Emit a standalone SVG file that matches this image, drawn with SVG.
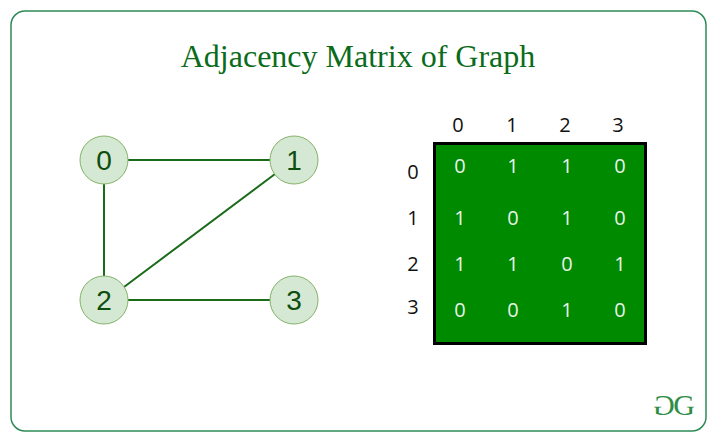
<svg xmlns="http://www.w3.org/2000/svg" width="717" height="441" viewBox="0 0 717 441">
<style>
.n{fill:#d5e8d4;stroke:#82b366;stroke-width:1}
.nt{font-family:"Liberation Sans",Arial,sans-serif;font-size:28px;fill:#0d4d0d;text-anchor:middle}
.e{stroke:#1a6b1a;stroke-width:2;fill:none}
.h{font-family:"Open Sans","DejaVu Sans",sans-serif;font-size:20px;fill:#111;text-anchor:middle}
.c{font-family:"Open Sans","DejaVu Sans",sans-serif;font-size:20px;fill:#e8f5e8;text-anchor:middle}
</style>
<rect width="717" height="441" fill="#fff"/>
<rect x="11" y="11" width="695" height="420" rx="14" fill="#fff" stroke="#2e8b57" stroke-width="1.5"/>
<text x="358" y="67" font-family="Liberation Serif,serif" font-size="32" fill="#0a6b1a" text-anchor="middle">Adjacency Matrix of Graph</text>
<g id="connectors">
<line class="e" x1="128" y1="160" x2="270" y2="160"/>
<line class="e" x1="104" y1="184" x2="104" y2="276"/>
<line class="e" x1="124" y1="287" x2="275" y2="174"/>
<line class="e" x1="128" y1="300" x2="270" y2="300"/>
</g>
<g id="n0"><circle class="n" cx="104" cy="160" r="24"/><text class="nt" x="104" y="170">0</text></g>
<g id="n1"><circle class="n" cx="294" cy="160" r="24"/><text class="nt" x="294" y="170">1</text></g>
<g id="n2"><circle class="n" cx="104" cy="300" r="24"/><text class="nt" x="104" y="310">2</text></g>
<g id="n3"><circle class="n" cx="294" cy="300" r="24"/><text class="nt" x="294" y="310">3</text></g>
<g id="matrix">
<rect x="434.5" y="143.5" width="211" height="200" fill="#008a00" stroke="#000" stroke-width="3"/>
<text class="h" x="458" y="132">0</text><text class="h" x="512" y="132">1</text><text class="h" x="565" y="132">2</text><text class="h" x="618" y="132">3</text>
<text class="h" x="413" y="179">0</text><text class="h" x="413" y="225">1</text><text class="h" x="413" y="271">2</text><text class="h" x="413" y="314">3</text>
<text class="c" x="460" y="173">0</text><text class="c" x="513" y="173">1</text><text class="c" x="567" y="173">1</text><text class="c" x="620" y="173">0</text>
<text class="c" x="460" y="225">1</text><text class="c" x="513" y="225">0</text><text class="c" x="567" y="225">1</text><text class="c" x="620" y="225">0</text>
<text class="c" x="460" y="271">1</text><text class="c" x="513" y="271">1</text><text class="c" x="567" y="271">0</text><text class="c" x="620" y="271">1</text>
<text class="c" x="460" y="317">0</text><text class="c" x="513" y="317">0</text><text class="c" x="567" y="317">1</text><text class="c" x="620" y="317">0</text>
</g>
<g id="logo" font-family="Liberation Serif,serif" font-size="30" fill="#2f8d46">
<text x="-664" y="415" transform="scale(-1,1)" text-anchor="middle">G</text>
<text x="684" y="415" text-anchor="middle">G</text>
</g>
</svg>
